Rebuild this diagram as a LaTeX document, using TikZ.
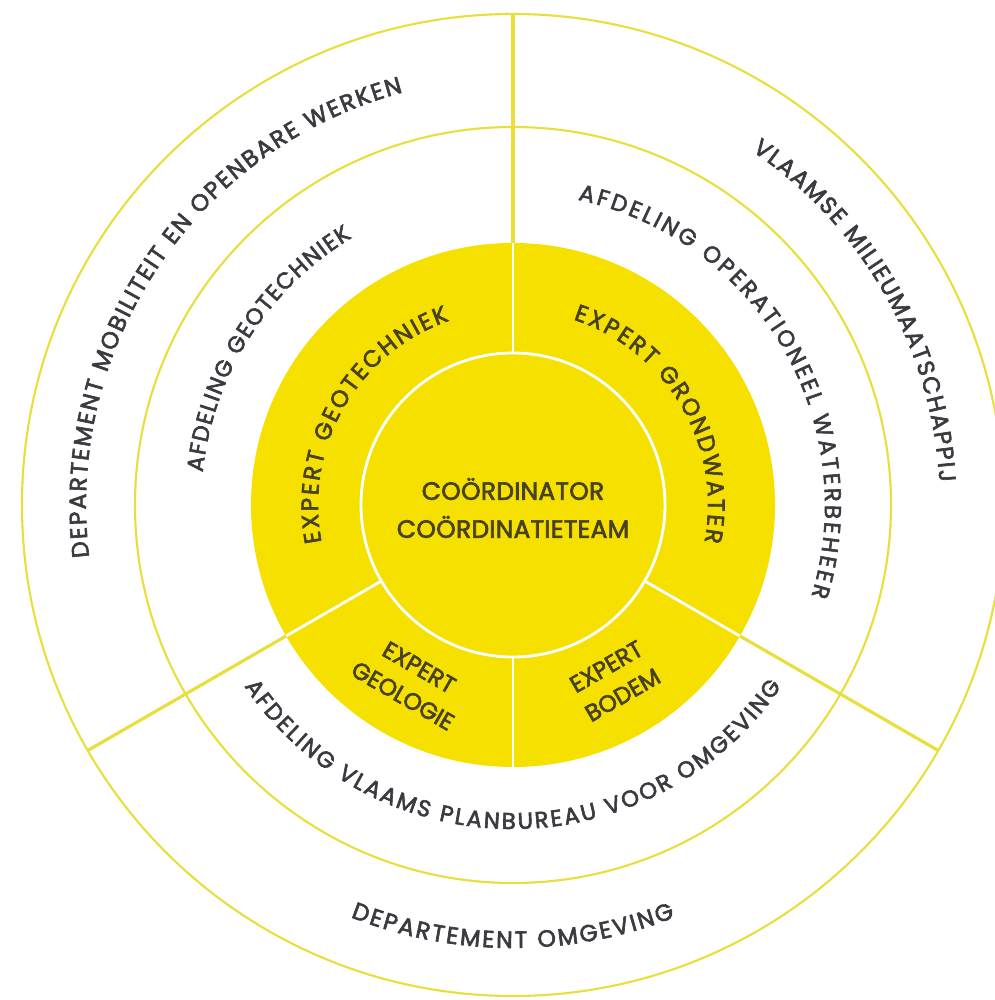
\documentclass[tikz,border=0pt]{standalone}
\usepackage{fontspec}
\usepackage{xcolor}
\usepackage{tikz}
\usetikzlibrary{decorations.text}
\newfontfamily\ringfont{Poppins}[FakeBold=2.6]
\newfontfamily\kernfont{Poppins}[LetterSpace=1,FakeBold=2.6]
\newcommand\ringsize{\ringfont\fontsize{6.7}{7.8}\selectfont}
\newcommand\afdsize{\ringfont\fontsize{6.5}{7.6}\selectfont}
\newcommand\kernsize{\kernfont\fontsize{7.1}{8.4}\selectfont}
\definecolor{vlgeel}{RGB}{246,224,0}
\definecolor{ringgeel}{RGB}{232,222,60}
\definecolor{labelgray}{RGB}{58,58,64}
\definecolor{kerngray}{RGB}{72,66,34}

\begin{document}
\begin{tikzpicture}[
    ring/.style={draw=ringgeel, line width=0.6pt},
    spoke/.style={draw=ringgeel, line width=0.9pt},
    whiteline/.style={draw=white, line width=0.8pt},
    kern/.style={align=center, font=\kernsize, text=kerngray},
    expert/.style={align=center, font=\ringsize, text=kerngray},
    ringtext/.style={decorate, decoration={text along path, text align={fit to path}, text color=labelgray, text={|\ringsize|#1}}},
    afdtext/.style={decorate, decoration={text along path, text align={fit to path}, text color=labelgray, text={|\afdsize|#1}}},
    experttext/.style={decorate, decoration={text along path, text align={fit to path}, text color=kerngray, text={|\ringsize|#1}}}]
    \useasboundingbox (-5.13,-4.95) rectangle (4.81,5.05);
    \fill[white] (-5.13,-4.95) rectangle (4.81,5.05);
    \fill[vlgeel] (0,0) circle (2.62);
    \draw[whiteline] (0,0) circle (1.52);
    \foreach \a in {90,210,270,330}
        \draw[whiteline] (\a:1.52) -- (\a:2.62);
    \draw[ring] (0,0) circle (3.78) (0,0) circle (4.91);
    \foreach \a in {90,210,330}
        \draw[spoke] (\a:2.62) -- (\a:4.91);
    \node[kern] (kern) at (0,-0.03) {COÖRDINATOR\\[2.4pt]COÖRDINATIETEAM};
    \node[expert, rotate=-30] (geologie) at (240:2.04) {EXPERT\\[1.5pt]GEOLOGIE};
    \node[expert, rotate=30] (bodem) at (300:2.03) {EXPERT\\[1.5pt]BODEM};
    \path[experttext={EXPERT GEOTECHNIEK}] (191:1.95) arc[start angle=191, end angle=109, radius=1.95];
    \path[experttext={EXPERT GRONDWATER}] (72:1.95) arc[start angle=72, end angle=-11, radius=1.95];
    \path[afdtext={AFDELING GEOTECHNIEK}] (174:3.12) arc[start angle=174, end angle=121, radius=3.12];
    \path[afdtext={AFDELING OPERATIONEEL WATERBEHEER}] (78:3.12) arc[start angle=78, end angle=-17, radius=3.12];
    \path[afdtext={AFDELING VLAAMS PLANBUREAU VOOR OMGEVING}] (214:3.24) arc[start angle=214, end angle=326, radius=3.24];
    \path[ringtext={DEPARTEMENT MOBILITEIT EN OPENBARE WERKEN}] (187:4.27) arc[start angle=187, end angle=105, radius=4.27];
    \path[ringtext={VLAAMSE MILIEUMAATSCHAPPIJ}] (56:4.27) arc[start angle=56, end angle=3, radius=4.27];
    \path[ringtext={DEPARTEMENT OMGEVING}] (248.5:4.43) arc[start angle=248.5, end angle=291.5, radius=4.43];
\end{tikzpicture}
\end{document}
